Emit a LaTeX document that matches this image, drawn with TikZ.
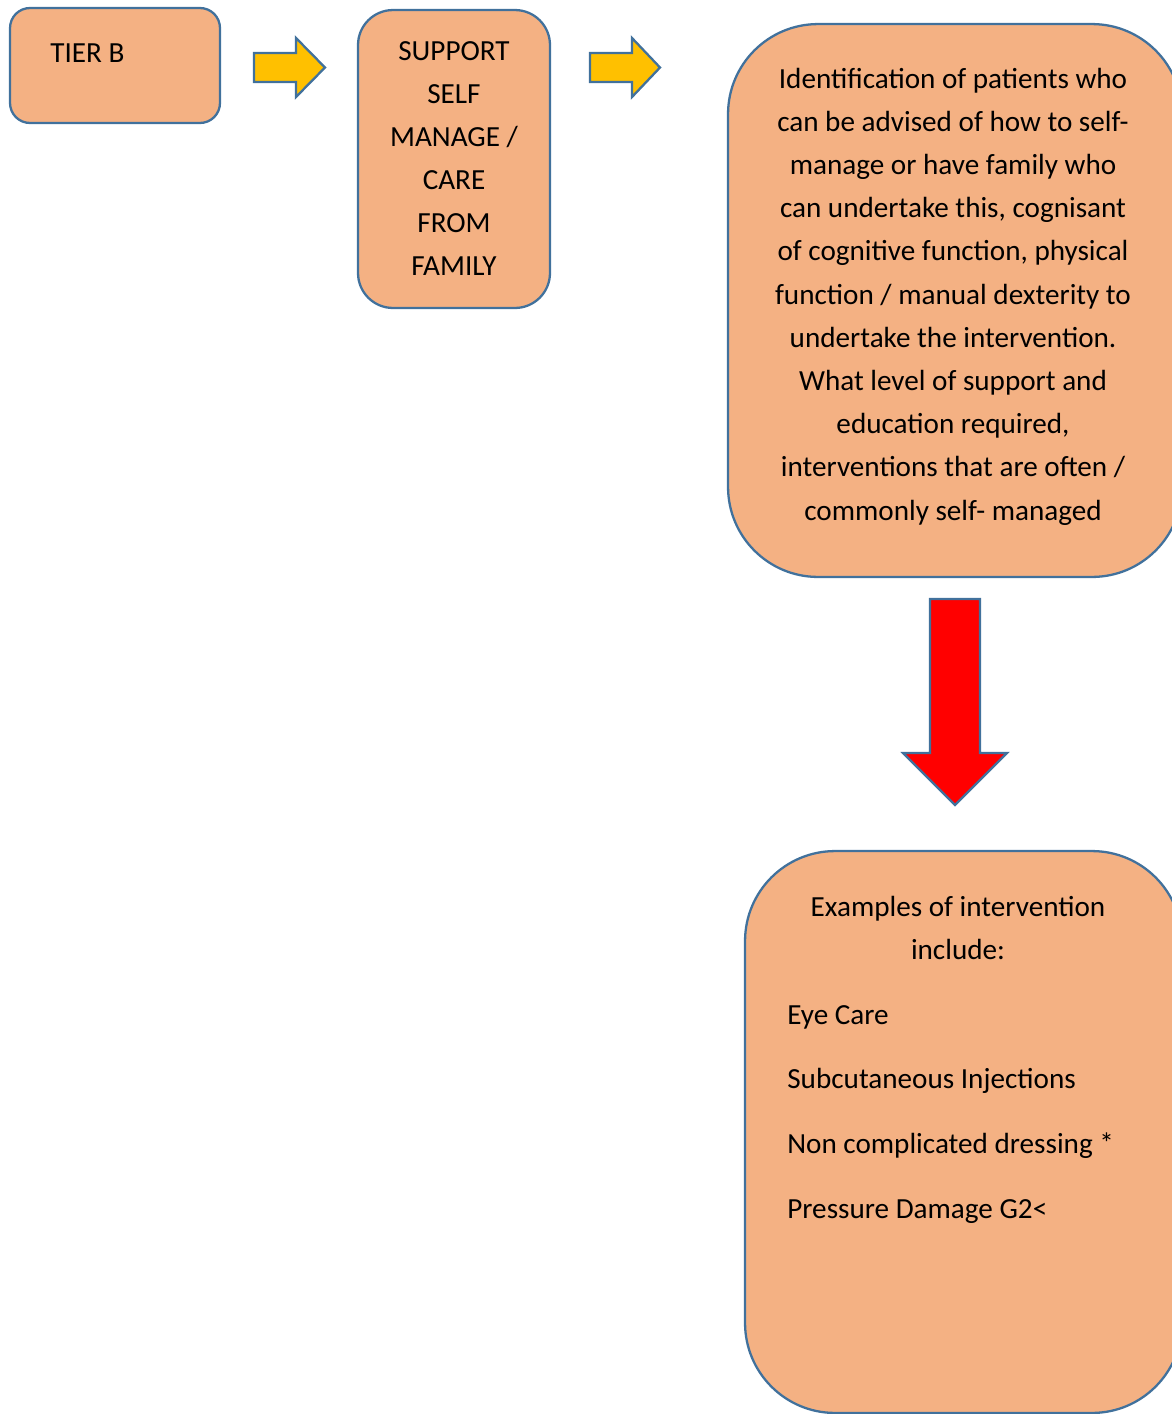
\documentclass[tikz,border=0pt]{standalone}
\usepackage{fontspec}
\setmainfont{Carlito}
\definecolor{boxfill}{HTML}{F4B183}
\definecolor{boxline}{HTML}{41719C}
\definecolor{arrowgold}{HTML}{FFC000}

\begin{document}
\begin{tikzpicture}[x=0.02cm,y=-0.02cm,
    box/.style = {rectangle,draw=boxline,fill=boxfill,line width=1.3pt,inner sep=0pt,outer sep=0pt},
    txt/.style = {inner sep=0pt,anchor=base,font=\fontsize{16.6}{24.5}\selectfont},
    blockarrow/.style = {draw=boxline,line width=1.3pt,line join=miter}]
\useasboundingbox (0,0) rectangle (1172,1414);
\clip (0,0) rectangle (1172,1414);
\node[box,minimum width=4.2cm,minimum height=2.3cm,rounded corners=0.4cm] (tierb) at (115,65.5) {};
\node[box,minimum width=3.84cm,minimum height=5.96cm,rounded corners=0.7cm] (support) at (454,159) {};
\node[box,minimum width=9.08cm,minimum height=11.06cm,rounded corners=1.8cm] (ident) at (955,300.5) {};
\node[box,minimum width=8.74cm,minimum height=11.24cm,rounded corners=1.8cm] (examples) at (963.5,1132) {};
\filldraw[blockarrow,fill=arrowgold] (254,53) -- (296,53) -- (296,38) -- (325,67.5) -- (296,97) -- (296,82) -- (254,82) -- cycle;
\filldraw[blockarrow,fill=arrowgold] (590,53) -- (632,53) -- (632,38) -- (660,67.5) -- (632,97) -- (632,82) -- (590,82) -- cycle;
\filldraw[blockarrow,fill=red] (930,599) -- (980,599) -- (980,753) -- (1007,753) -- (955,805) -- (903,753) -- (930,753) -- cycle;
\node[txt,anchor=base west] (tiertxt) at (50,62) {TIER B};
\foreach \t [count=\i from 0] in {SUPPORT, SELF, MANAGE /, CARE, FROM, FAMILY}
    \node[txt] (sup\i) at (454, 60+43*\i) {\t};
\foreach \t [count=\i from 0] in {Identification of patients who, can be advised of how to self-,
    manage or have family who, {can undertake this, cognisant}, {of cognitive function, physical},
    function / manual dexterity to, undertake the intervention., What level of support and,
    {education required,}, interventions that are often /, commonly self- managed}
    \node[txt] (idl\i) at (953, 88+43.2*\i) {\t};
\node[txt] (exhead) at (958,916) {Examples of intervention};
\node[txt] (exinc) at (958,959) {include:};
\foreach \t [count=\i from 0] in {Eye Care, Subcutaneous Injections, Non complicated dressing *, Pressure Damage G2<}
    \node[txt,anchor=base west] (ex\i) at (787, 1024+64.7*\i) {\t};
\end{tikzpicture}
\end{document}
